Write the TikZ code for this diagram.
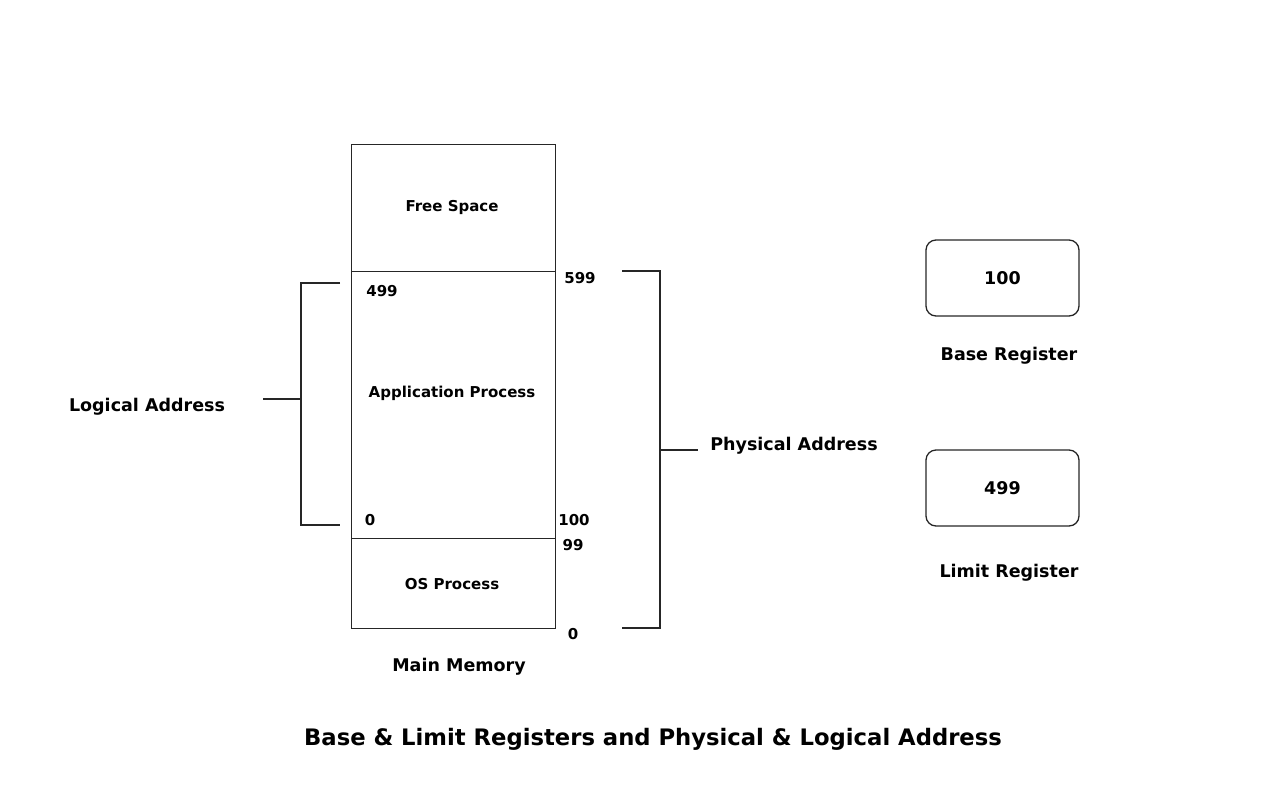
\documentclass[tikz,border=0pt]{standalone}
\usepackage{fontspec}
\setmainfont{DejaVu Sans}
\begin{document}
\begin{tikzpicture}[x=1pt,y=-1pt,
  ln/.style={draw=black!85,line width=1.3pt},
  lbl/.style={font=\bfseries\fontsize{15}{17}\selectfont,inner sep=0pt,text=black,yshift=-1.5pt},
  big/.style={font=\bfseries\fontsize{17.5}{20}\selectfont,inner sep=0pt,text=black,yshift=-2pt},
  reg/.style={ln,rounded corners=10pt,minimum width=153pt,minimum height=76pt,inner sep=0pt,font=\bfseries\fontsize{17.5}{20}\selectfont}]
\useasboundingbox (0,0) rectangle (1270,801);
% memory
\node[ln,minimum width=204pt,minimum height=127pt,inner sep=0pt,anchor=north west] (free) at (351,144) {};
\node[ln,minimum width=204pt,minimum height=267pt,inner sep=0pt,anchor=north west] (app) at (351,271) {};
\node[ln,minimum width=204pt,minimum height=90pt,inner sep=0pt,anchor=north west] (os) at (351,538) {};
\node[lbl] at (452,206) {Free Space};
\node[lbl] at (452,392) {Application Process};
\node[lbl] at (452,583) {OS Process};
\node[big] (mm) at (459,665) {Main Memory};
% address labels
\node[lbl] (l499) at (382,290) {499};
\node[lbl] (l0) at (370,519) {0};
\node[lbl] (p599) at (580,277) {599};
\node[lbl] (p100) at (574,519) {100};
\node[lbl] (p99) at (573,544) {99};
\node[lbl] (p0) at (573,633) {0};
% logical bracket
\coordinate (lt) at (340,283);
\coordinate (lb) at (340,525);
\coordinate (lm) at (263,399);
\draw[ln] (lt) -- (301,283) -- (301,525) -- (lb);
\draw[ln] (lm) -- (301,399);
\node[big] (la) at (147,405) {Logical Address};
% physical bracket
\coordinate (pt) at (622,271);
\coordinate (pb) at (622,628);
\coordinate (pm) at (698,450);
\draw[ln] (pt) -- (660,271) -- (660,628) -- (pb);
\draw[ln] (660,450) -- (pm);
\node[big] (pa) at (794,444) {Physical Address};
% registers
\node[reg] (base) at (1002.5,278) {100};
\node[big] (bl) at (1009,354) {Base Register};
\node[reg] (limit) at (1002.5,488) {499};
\node[big] (ll) at (1009,571) {Limit Register};
% title
\node[font=\bfseries\fontsize{22.7}{26}\selectfont,inner sep=0pt,yshift=-2pt] (title) at (653,737) {Base \& Limit Registers and Physical \& Logical Address};
\end{tikzpicture}
\end{document}
